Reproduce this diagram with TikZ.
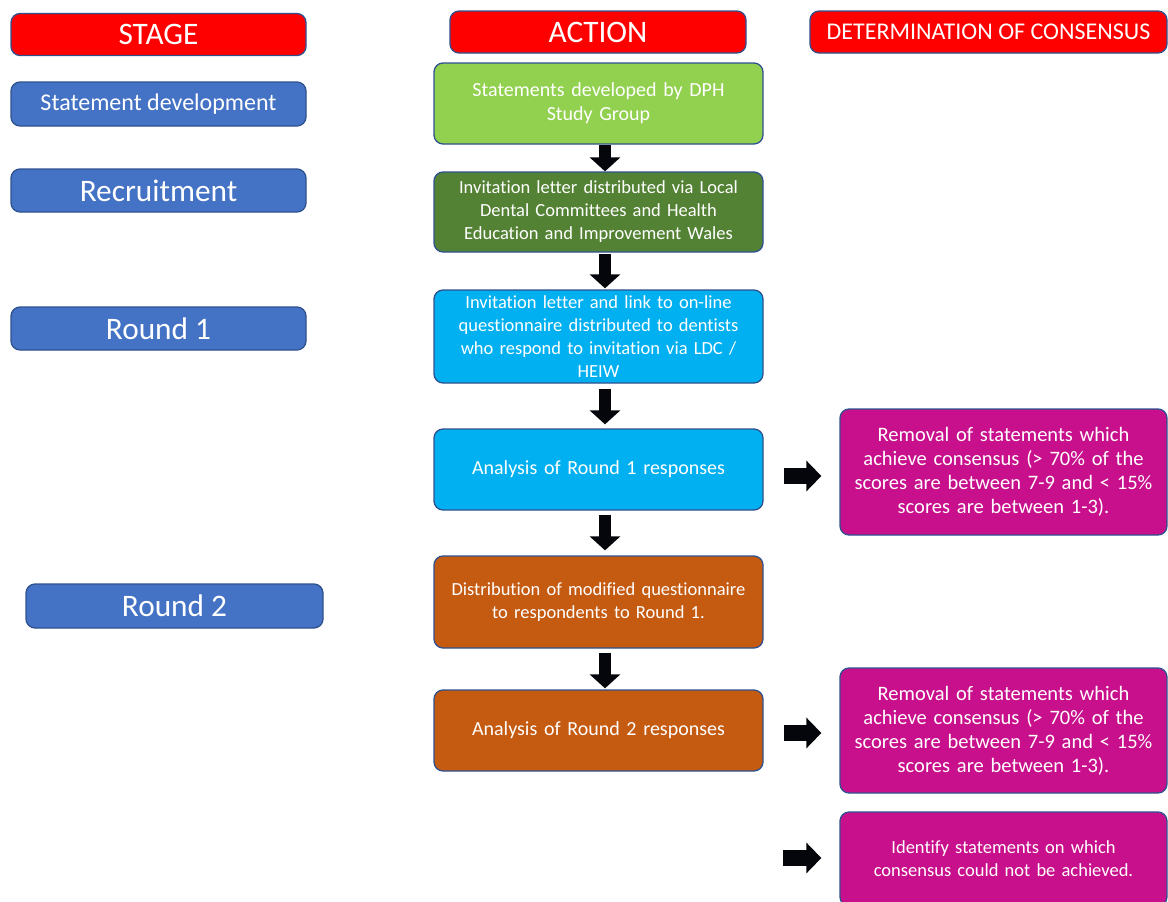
\documentclass[tikz,border=0pt]{standalone}
\usepackage{fontspec}
\setmainfont[Ligatures=NoCommon]{Carlito}
\usetikzlibrary{arrows.meta,calc}
\definecolor{bord}{HTML}{2F528F}
\definecolor{stageblue}{HTML}{4472C4}
\definecolor{hdrred}{HTML}{FF0000}
\definecolor{lgreen}{HTML}{92D050}
\definecolor{dgreen}{HTML}{548235}
\definecolor{cyanb}{HTML}{00B0F0}
\definecolor{orangeb}{HTML}{C55A11}
\definecolor{magb}{HTML}{C8108D}
\definecolor{arrowblk}{HTML}{05060C}
\tikzset{
  box/.style={draw=bord, line width=1.3pt, rounded corners=9pt, text=white, align=center, inner sep=0pt},
  bigtxt/.style={font=\fontsize{31.3}{36}\selectfont},
  midtxt/.style={font=\fontsize{24}{28}\selectfont},
  acttxt/.style={font=\fontsize{20}{24}\selectfont},
  smtxt/.style={font=\fontsize{18.5}{23}\selectfont},
  contxt/.style={font=\fontsize{20.5}{24}\selectfont},
  stagebox/.style={box, fill=stageblue, minimum width=295pt, minimum height=43pt},
  hdrbox/.style={box, fill=hdrred, minimum height=42pt},
  actbox/.style={box, acttxt, minimum width=329pt, text width=320pt},
  conbox/.style={box, contxt, fill=magb, minimum width=327pt, text width=315pt},
  darrow/.style={arrowblk, line width=12pt, -{Triangle[width=30pt,length=14pt]}},
  rarrow/.style={arrowblk, line width=16pt, -{Triangle[width=30pt,length=15pt]}},
}
\begin{document}
\begin{tikzpicture}[x=1pt,y=-1pt]
\useasboundingbox (0,0) rectangle (1168,902);
% headers
\node[hdrbox, bigtxt, minimum width=295pt] (stage) at (158.5,34.5) {STAGE};
\node[hdrbox, bigtxt, minimum width=296pt] (action) at (598,32) {ACTION};
\node[hdrbox, midtxt, minimum width=357pt] (det) at (988.5,32) {DETERMINATION OF CONSENSUS};
% stage column
\node[stagebox, midtxt, minimum height=44pt] (sd) at (158.5,104) {Statement development};
\node[stagebox, bigtxt] (rec) at (158.5,190.5) {Recruitment};
\node[stagebox, bigtxt] (r1) at (158.5,328.5) {Round 1};
\node[stagebox, bigtxt, minimum width=297pt, minimum height=44pt] (r2) at (174.5,606) {Round 2};
% action column
\node[actbox, fill=lgreen, minimum height=81pt] (a1) at (598.5,103.5) {Statements developed by DPH\\Study Group};
\node[actbox, smtxt, fill=dgreen, minimum height=80pt] (a2) at (598.5,212) {Invitation letter distributed via Local\\Dental Committees and Health\\Education and Improvement Wales};
\node[actbox, smtxt, fill=cyanb, minimum height=93pt] (a3) at (598.5,336.5) {Invitation letter and link to on-line\\questionnaire distributed to dentists\\who respond to invitation via LDC /\\HEIW};
\node[actbox, fill=cyanb, minimum height=81pt] (a4) at (598.5,469.5) {Analysis of Round 1 responses};
\node[actbox, smtxt, fill=orangeb, minimum height=92pt] (a5) at (598.5,602) {Distribution of modified questionnaire\\to respondents to Round 1.};
\node[actbox, fill=orangeb, minimum height=81pt] (a6) at (598.5,730.5) {Analysis of Round 2 responses};
% consensus column
\node[conbox, minimum height=126pt] (c1) at (1003.5,472) {Removal of statements which\\achieve consensus (> 70\% of the\\scores are between 7-9 and < 15\%\\scores are between 1-3).};
\node[conbox, minimum height=125pt] (c2) at (1003.5,730.5) {Removal of statements which\\achieve consensus (> 70\% of the\\scores are between 7-9 and < 15\%\\scores are between 1-3).};
\node[conbox, smtxt, minimum height=94pt] (c3) at (1003.5,859) {Identify statements on which\\consensus could not be achieved.};
\coordinate (s3) at (763,858);
% down arrows
\draw[darrow] ([xshift=6.5pt]a1.south) -- ([xshift=6.5pt]a2.north);
\draw[darrow, shorten <=1pt, shorten >=1pt] ([xshift=6.5pt]a2.south) -- ([xshift=6.5pt]a3.north);
\draw[darrow, shorten <=5pt, shorten >=4pt] ([xshift=6.5pt]a3.south) -- ([xshift=6.5pt]a4.north);
\draw[darrow, shorten <=4pt, shorten >=5pt] ([xshift=6.5pt]a4.south) -- ([xshift=6.5pt]a5.north);
\draw[darrow, shorten <=4pt, shorten >=1pt] ([xshift=6.5pt]a5.south) -- ([xshift=6.5pt]a6.north);
% right arrows
\draw[rarrow, shorten <=20pt, shorten >=18pt] ([yshift=-6.5pt]a4.east) -- ([yshift=-4pt]c1.west);
\draw[rarrow, shorten <=20pt, shorten >=18pt] ([yshift=-2.5pt]a6.east) -- ([yshift=-2.5pt]c2.west);
\draw[rarrow, shorten <=20pt, shorten >=18pt] (s3) -- ([yshift=1pt]c3.west);
\end{tikzpicture}
\end{document}
